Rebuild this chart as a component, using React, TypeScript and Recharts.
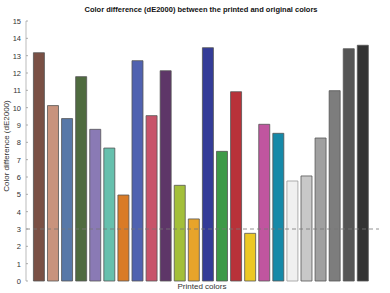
import { ComposedChart, Bar, Cell, XAxis, YAxis, ReferenceLine } from 'recharts';

const names = [
  'c1', 'c2', 'c3', 'c4', 'c5', 'c6', 'c7', 'c8', 'c9', 'c10', 'c11', 'c12',
  'c13', 'c14', 'c15', 'c16', 'c17', 'c18', 'c19', 'c20', 'c21', 'c22', 'c23', 'c24',
];

const dE = [
  13.17, 10.12, 9.37, 11.79, 8.75, 7.67, 4.96, 12.71, 9.54, 12.13, 5.52, 3.58,
  13.46, 7.48, 10.92, 2.75, 9.04, 8.52, 5.77, 6.06, 8.25, 10.98, 13.4, 13.6,
];

const colors = [
  '#7a5045', '#c8937d', '#5878a8', '#4f6b3f', '#8a7ab5', '#66c0ad', '#d97b27', '#5062b0',
  '#c8546a', '#5e3668', '#a3bf3a', '#e8a42a', '#343c98', '#3e9a48', '#b83239', '#ecc825',
  '#c0559f', '#1689a8', '#f0f0f0', '#c8c8c8', '#a0a0a0', '#7d7d7d', '#555555', '#333333',
];

const yTicks = [0, 1, 2, 3, 4, 5, 6, 7, 8, 9, 10, 11, 12, 13, 14, 15];

const FONT = 'Liberation Sans, Arial, sans-serif';

function YTick(props: any) {
  const { x, y, payload } = props;
  return (
    <g>
      <line x1={x + 5} x2={x + 7} y1={y} y2={y} stroke="#999" strokeWidth={0.8} />
      <text x={x} y={y} dy={3} textAnchor="end" fontSize={7.5} fill="#333" fontFamily={FONT}>
        {payload.value}
      </text>
    </g>
  );
}

export default function App() {
  const data = names.map((n, i) => ({ name: n, value: dE[i] }));

  return (
    <div style={{ position: 'absolute', left: 0, top: 0, width: 390, height: 293, background: '#fff' }}>
      <ComposedChart
        width={390}
        height={293}
        data={data}
        margin={{ top: 21, right: 11, bottom: 12, left: 0 }}
        barCategoryGap="10%"
      >
        <XAxis
          dataKey="name"
          tick={false}
          tickLine={false}
          height={0}
          padding={{ left: 6, right: 9 }}
          axisLine={{ stroke: '#bbb' }}
        />
        <YAxis
          domain={[0, 15]}
          ticks={yTicks}
          width={26}
          tickSize={0}
          tickMargin={5}
          tick={<YTick />}
          axisLine={{ stroke: '#bbb' }}
          tickLine={false}
          interval={0}
        />
        <ReferenceLine y={3} stroke="#777" strokeDasharray="4 3" strokeWidth={0.8} />
        <Bar dataKey="value" isAnimationActive={false} stroke="#666" strokeWidth={0.8}>
          {data.map((d, i) => (
            <Cell key={d.name} fill={colors[i]} stroke={i === 18 ? '#999' : '#555'} />
          ))}
        </Bar>
      </ComposedChart>
      <div
        style={{
          position: 'absolute', left: 0, width: 402, top: 5, textAlign: 'center',
          fontFamily: FONT, fontSize: 7.5, fontWeight: 'bold', color: '#111',
        }}
      >
        Color difference (dE2000) between the printed and original colors
      </div>
      <div
        style={{
          position: 'absolute', left: 0, width: 404, top: 282, textAlign: 'center',
          fontFamily: FONT, fontSize: 8, color: '#333',
        }}
      >
        Printed colors
      </div>
      <div
        style={{
          position: 'absolute', left: 7, top: 146, width: 0, height: 0,
        }}
      >
        <div
          style={{
            position: 'absolute', left: -60, top: -6, width: 120, textAlign: 'center',
            transform: 'rotate(-90deg)', fontFamily: FONT, fontSize: 8, color: '#333',
            whiteSpace: 'nowrap', lineHeight: '12px',
          }}
        >
          Color difference (dE2000)
        </div>
      </div>
    </div>
  );
}
